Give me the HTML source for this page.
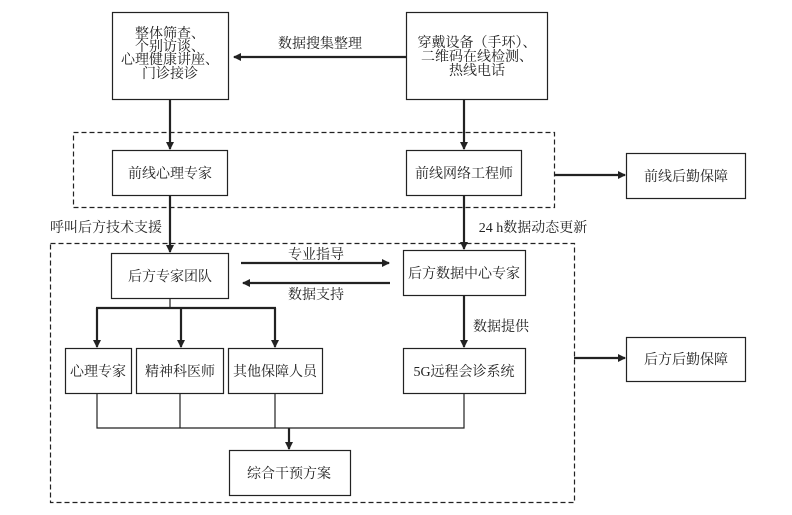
<!DOCTYPE html>
<html><head><meta charset="utf-8"><style>
html,body{margin:0;padding:0;background:#fff;}
svg text{font-family:"Liberation Serif","Noto Serif CJK SC",serif;font-size:14px;fill:#222;}
</style></head><body>
<svg width="792" height="510" viewBox="0 0 792 510" xmlns="http://www.w3.org/2000/svg">
<defs>
<marker id="ah" markerWidth="8" markerHeight="8" refX="7" refY="4" orient="auto" markerUnits="userSpaceOnUse">
<path d="M0,0 L8,4 L0,8 Z" fill="#222"/></marker>
</defs>
<g fill="none" stroke="#222" stroke-width="1.2">
<rect x="112.5" y="12.5" width="116" height="87"/>
<rect x="406.5" y="12.5" width="141" height="87"/>
<rect x="73.5" y="132.5" width="481" height="75" stroke-dasharray="5,3"/>
<rect x="112.5" y="150.5" width="115" height="45"/>
<rect x="406.5" y="150.5" width="115" height="45"/>
<rect x="626.5" y="153.5" width="119" height="45"/>
<rect x="50.5" y="243.5" width="524" height="259" stroke-dasharray="5,3"/>
<rect x="111.5" y="253.5" width="117" height="45"/>
<rect x="403.5" y="250.5" width="122" height="45"/>
<rect x="65.5" y="348.5" width="66" height="45"/>
<rect x="136.5" y="348.5" width="87" height="45"/>
<rect x="228.5" y="348.5" width="94" height="45"/>
<rect x="403.5" y="348.5" width="122" height="45"/>
<rect x="229.5" y="450.5" width="121" height="45"/>
<rect x="626.5" y="337.5" width="119" height="44"/>
</g>
<g stroke="#222" stroke-width="2.2" fill="none">
<line x1="406" y1="57" x2="234" y2="57" marker-end="url(#ah)"/>
<line x1="170" y1="99" x2="170" y2="149" marker-end="url(#ah)"/>
<line x1="464" y1="99" x2="464" y2="149" marker-end="url(#ah)"/>
<line x1="554" y1="175" x2="625" y2="175" marker-end="url(#ah)"/>
<line x1="170" y1="195" x2="170" y2="252" marker-end="url(#ah)"/>
<line x1="464" y1="195" x2="464" y2="249" marker-end="url(#ah)"/>
<line x1="241" y1="263" x2="389" y2="263" marker-end="url(#ah)"/>
<line x1="390" y1="283" x2="243" y2="283" marker-end="url(#ah)"/>
<line x1="97" y1="308" x2="97" y2="347" marker-end="url(#ah)"/>
<line x1="181" y1="308" x2="181" y2="347" marker-end="url(#ah)"/>
<line x1="275" y1="308" x2="275" y2="347" marker-end="url(#ah)"/>
<line x1="464" y1="295" x2="464" y2="347" marker-end="url(#ah)"/>
<line x1="289" y1="428" x2="289" y2="449" marker-end="url(#ah)"/>
<line x1="574" y1="358" x2="625" y2="358" marker-end="url(#ah)"/>
<line x1="96" y1="308" x2="276" y2="308"/>
</g>
<g stroke="#222" stroke-width="1.2" fill="none">
<line x1="170" y1="298" x2="170" y2="308"/>
<polyline points="97,393 97,428 464,428 464,393"/>
<line x1="180" y1="393" x2="180" y2="428"/>
<line x1="275" y1="393" x2="275" y2="428"/>
</g>
<g text-anchor="middle">
<text x="170" y="38">整体筛查、</text>
<text x="170" y="51">个别访谈、</text>
<text x="170" y="64">心理健康讲座、</text>
<text x="170" y="78">门诊接诊</text>
<text x="477" y="47">穿戴设备（手环）、</text>
<text x="477" y="61">二维码在线检测、</text>
<text x="477" y="75">热线电话</text>
<text x="320" y="48">数据搜集整理</text>
<text x="170" y="178">前线心理专家</text>
<text x="464" y="178">前线网络工程师</text>
<text x="686" y="181">前线后勤保障</text>
<text x="106" y="232">呼叫后方技术支援</text>
<text x="533" y="232">24 h数据动态更新</text>
<text x="170" y="281">后方专家团队</text>
<text x="464" y="278">后方数据中心专家</text>
<text x="316" y="259">专业指导</text>
<text x="316" y="299">数据支持</text>
<text x="501" y="331">数据提供</text>
<text x="98" y="376">心理专家</text>
<text x="180" y="376">精神科医师</text>
<text x="275" y="376">其他保障人员</text>
<text x="464" y="376">5G远程会诊系统</text>
<text x="289" y="478">综合干预方案</text>
<text x="686" y="364">后方后勤保障</text>
</g>
</svg>
</body></html>
